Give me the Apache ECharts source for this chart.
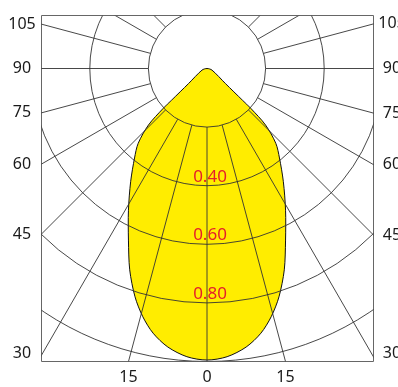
<!DOCTYPE html>
<html><head><meta charset="utf-8">
<script src="https://cdn.jsdelivr.net/npm/echarts@6/dist/echarts.min.js"></script>
<style>html,body{margin:0;padding:0;background:#fff}#c{width:398px;height:387px}</style>
</head><body><div id="c"></div>
<script>
// Intensity curve (angle from nadir in degrees, relative value)
const intensityAngles = [0, 4, 8, 11.5, 14.5, 17.5, 21, 24.6, 29, 34, 39, 42.6, 46, 47.7, 48.2, 50.8, 72, 180];
const intensityValues = [0.995, 0.986, 0.96, 0.922, 0.875, 0.817, 0.736, 0.644, 0.553, 0.466, 0.393, 0.347, 0.278, 0.202, 0.162, 0.081, 0.018, 0];
// Grid rings and spokes
const gridRadii = [0.2, 0.4, 0.6, 0.8, 1.0];
const spokeAngles = [0, 15, 30, 45, 60, 75, 90, 105, 120, 135];
const angleTickLabels = ['0', '15', '30', '45', '60', '75', '90', '105', '120', '135'];
const ringLabelValues = [0.4, 0.6, 0.8];
const ringLabels = ['0.40', '0.60', '0.80'];

// layout (data extents of the clipped frame, centre of the polar diagram at 0,0)
const PX = 293;
const X_MIN = -165.5 / PX, X_MAX = 166.5 / PX, Y_MIN = -1, Y_MAX = 53 / PX;
const SPOKE_START = 0.2, SPOKE_END = 1.4;
const FONT = '"Noto Sans", "Open Sans", sans-serif';

function polar(theta, r, side) {
  const a = theta * Math.PI / 180;
  return [side * r * Math.sin(a), -r * Math.cos(a)];
}
const outline = [];
for (let i = 0; i < intensityAngles.length; i++) outline.push(polar(intensityAngles[i], intensityValues[i], -1));
for (let i = intensityAngles.length - 2; i >= 1; i--) outline.push(polar(intensityAngles[i], intensityValues[i], 1));

const spokeData = [];
spokeAngles.forEach(function (t) {
  if (t === 0 || t === 180) spokeData.push([t, 1]);
  else { spokeData.push([t, -1]); spokeData.push([t, 1]); }
});

function exitPoint(theta, side) {
  const d = polar(theta, 1, side);
  let t = Infinity, edge = null;
  if (d[0] < -1e-9) { const tt = X_MIN / d[0]; if (tt < t) { t = tt; edge = 'left'; } }
  if (d[0] > 1e-9) { const tt = X_MAX / d[0]; if (tt < t) { t = tt; edge = 'right'; } }
  if (d[1] < -1e-9) { const tt = Y_MIN / d[1]; if (tt < t) { t = tt; edge = 'bottom'; } }
  if (d[1] > 1e-9) { const tt = Y_MAX / d[1]; if (tt < t) { t = tt; edge = 'top'; } }
  return { pt: [d[0] * t, d[1] * t], edge: edge };
}
const tickData = [];
spokeAngles.forEach(function (t, i) {
  const sides = (t === 0) ? [1] : [-1, 1];
  sides.forEach(function (s) {
    if (exitPoint(t, s).edge !== 'top') tickData.push([t, s, i]);
  });
});

function clipRect(params) {
  const c = params.coordSys;
  return { type: 'rect', shape: { x: c.x, y: c.y, width: c.width, height: c.height } };
}
const LINE = '#333';

const chart = echarts.init(document.getElementById('c'), null, { renderer: 'canvas' });
chart.setOption({
  animation: false,
  backgroundColor: '#fff',
  grid: { left: 41.5, top: 15.5, width: 332, height: 346, show: true, borderColor: '#666', borderWidth: 1, backgroundColor: 'transparent', outerBoundsMode: 'none', containLabel: false },
  xAxis: { type: 'value', min: X_MIN, max: X_MAX, show: false },
  yAxis: { type: 'value', min: Y_MIN, max: Y_MAX, show: false },
  series: [
    {
      type: 'custom', name: 'intensity', clip: true, z: 2,
      data: outline,
      renderItem: function (params, api) {
        if (params.dataIndex !== 0) return;
        const pts = outline.map(function (p) { return api.coord(p); });
        return { type: 'polygon', shape: { points: pts, smooth: 0.3 }, style: { fill: '#FFED00', stroke: '#111', lineWidth: 1 } };
      }
    },
    {
      type: 'custom', name: 'rings', clip: true, z: 3,
      data: gridRadii.map(function (r) { return [r, 0]; }),
      renderItem: function (params, api) {
        const r = api.value(0);
        const c = api.coord([0, 0]);
        const s = api.size([r, r]);
        return { type: 'group', clipPath: clipRect(params), children: [
          { type: 'circle', shape: { cx: c[0], cy: c[1], r: s[0] }, style: { fill: 'none', stroke: LINE, lineWidth: 0.9 } }
        ] };
      }
    },
    {
      type: 'custom', name: 'spokes', clip: true, z: 3,
      data: spokeData,
      renderItem: function (params, api) {
        const t = api.value(0), side = api.value(1);
        const p1 = api.coord(polar(t, SPOKE_START, side));
        const p2 = api.coord(polar(t, SPOKE_END, side));
        return { type: 'group', clipPath: clipRect(params), children: [
          { type: 'line', shape: { x1: p1[0], y1: p1[1], x2: p2[0], y2: p2[1] }, style: { stroke: LINE, lineWidth: 0.9 } }
        ] };
      }
    },
    {
      type: 'custom', name: 'angleLabels', clip: false, z: 4,
      data: tickData,
      renderItem: function (params, api) {
        const t = api.value(0), side = api.value(1), idx = api.value(2);
        const ex = exitPoint(t, side);
        const p = api.coord(ex.pt);
        let x = p[0], y = p[1];
        if (ex.edge === 'bottom') { y = p[1] + 15.5; }
        else if (ex.edge === 'left') { x = p[0] - 19.5; y = Math.max(18, Math.min(353, p[1])); }
        else { x = p[0] + 18.5; y = Math.max(18, Math.min(353, p[1])); }
        return { type: 'text', x: x, y: y, style: { text: angleTickLabels[idx], fill: '#1a1a1a', font: '16px ' + FONT, align: 'center', verticalAlign: 'middle', textAlign: 'center', textVerticalAlign: 'middle' } };
      }
    },
    {
      type: 'custom', name: 'ringLabels', clip: false, z: 5,
      data: ringLabelValues.map(function (v, i) { return [0, -v, i]; }),
      renderItem: function (params, api) {
        const p = api.coord([api.value(0), api.value(1)]);
        return { type: 'text', x: p[0] + 3, y: p[1] - 9, style: { text: ringLabels[api.value(2)], fill: '#e4202a', font: '17px ' + FONT, align: 'center', verticalAlign: 'middle', textAlign: 'center', textVerticalAlign: 'middle' } };
      }
    }
  ]
});
</script>
</body></html>
